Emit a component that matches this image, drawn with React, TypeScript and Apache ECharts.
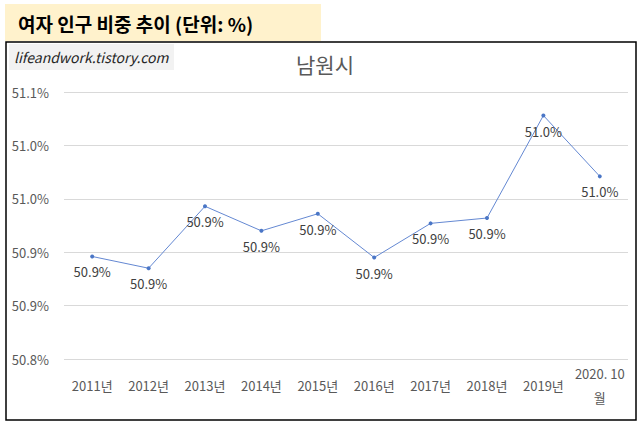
import React, { useEffect, useRef } from "react";
import * as echarts from "echarts";

const categories = ["2011년", "2012년", "2013년", "2014년", "2015년", "2016년", "2017년", "2018년", "2019년", "2020. 10\n월"];
const values = [50.896, 50.885, 50.943, 50.92, 50.936, 50.895, 50.927, 50.932, 51.028, 50.971];
const yTickLabels = ["50.8%", "50.9%", "50.9%", "51.0%", "51.0%", "51.1%"];
const headingText = "여자 인구 비중 추이 (단위: %)";
const chartTitle = "남원시";
const watermark = "lifeandwork.tistory.com";

const FONT = "'Noto Sans CJK KR', 'Noto Sans', sans-serif";

export default function App() {
  const ref = useRef<HTMLDivElement>(null);
  useEffect(() => {
    if (!ref.current) return;
    const chart = echarts.init(ref.current, undefined, { renderer: "svg" });
    chart.setOption({
      animation: false,
      backgroundColor: "#ffffff",
      textStyle: { fontFamily: FONT },
      title: {
        text: chartTitle,
        left: 320,
        top: 48,
        textAlign: "center",
        textStyle: { fontSize: 21, fontWeight: "normal", color: "#595959", fontFamily: FONT },
      },
      grid: { left: 64, right: 14, top: 92, bottom: 72, containLabel: false },
      xAxis: {
        type: "category",
        data: categories,
        boundaryGap: true,
        axisLine: { show: false },
        axisTick: { show: false },
        axisLabel: {
          interval: 0,
          color: "#595959",
          fontSize: 13,
          fontFamily: FONT,
          margin: 26,
          verticalAlign: "middle",
          lineHeight: 24,
        },
      },
      yAxis: {
        type: "value",
        min: 50.8,
        max: 51.05,
        interval: 0.05,
        axisLine: { show: false },
        axisTick: { show: false },
        splitLine: { lineStyle: { color: "#d9d9d9", width: 1 } },
        axisLabel: {
          color: "#595959",
          fontSize: 13,
          fontFamily: FONT,
          margin: 15,
          formatter: (v: number) => {
            const idx = Math.round((v - 50.8) / 0.05);
            return yTickLabels[idx] ?? "";
          },
        },
      },
      series: [
        {
          type: "line",
          data: values,
          symbol: "circle",
          symbolSize: 4,
          lineStyle: { color: "#6488d2", width: 1 },
          itemStyle: { color: "#4a76c6" },
          label: {
            show: true,
            position: "bottom",
            distance: 7,
            color: "#404040",
            fontSize: 13,
            fontFamily: FONT,
            formatter: (p: any) => (Math.round(p.value * 10) / 10).toFixed(1) + "%",
          },
        },
      ],
      graphic: [
        {
          type: "rect",
          shape: { x: 5, y: 4, width: 316, height: 37 },
          style: { fill: "#fff2cc" },
          silent: true,
        },
        {
          type: "text",
          x: 18,
          y: 23,
          style: {
            text: headingText,
            font: `bold 19px ${FONT}`,
            fill: "#000000",
            verticalAlign: "middle",
          },
        },
        {
          type: "rect",
          shape: { x: 6, y: 42, width: 630, height: 378 },
          style: { fill: "none", stroke: "#000000", lineWidth: 1.5 },
          silent: true,
        },
        {
          type: "rect",
          shape: { x: 9, y: 44, width: 165, height: 26 },
          style: { fill: "#f2f2f2" },
          silent: true,
        },
        {
          type: "text",
          x: 14,
          y: 57,
          style: {
            text: watermark,
            font: `italic 14px ${FONT}`,
            fill: "#262626",
            verticalAlign: "middle",
          },
        },
      ],
    });
    return () => chart.dispose();
  }, []);
  return <div ref={ref} style={{ position: "fixed", left: 0, top: 0, width: 642, height: 431 }} />;
}
